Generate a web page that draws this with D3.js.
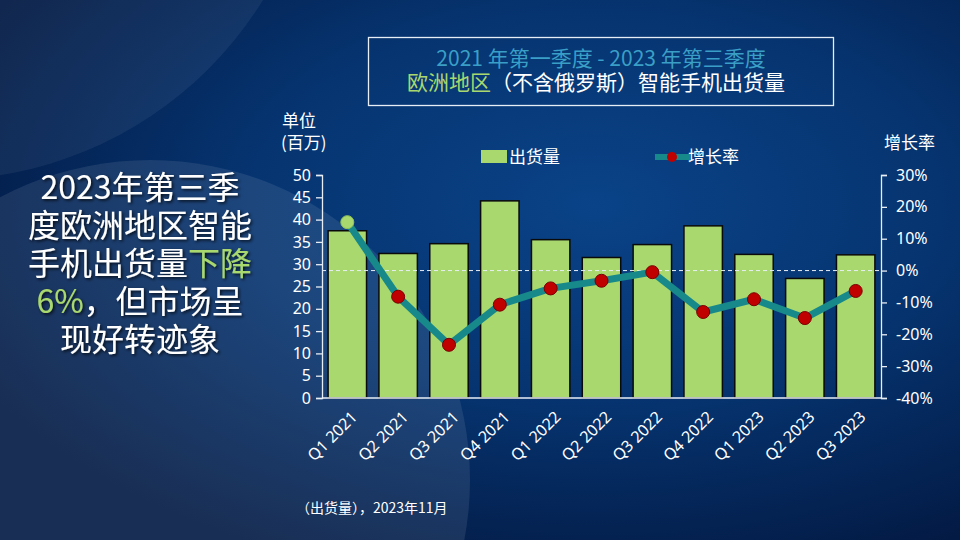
<!DOCTYPE html>
<html>
<head>
<meta charset="utf-8">
<script src="https://cdn.jsdelivr.net/npm/d3@7"></script>
<style>
  body { margin: 0; background: #062a5c; }
  svg { display: block; font-family: "Noto Sans CJK SC", "Noto Sans", sans-serif; }
</style>
</head>
<body>
<svg id="chart" width="960" height="540"></svg>
<script>
// quarters on the x axis
const quarters = ["Q1 2021","Q2 2021","Q3 2021","Q4 2021","Q1 2022","Q2 2022","Q3 2022","Q4 2022","Q1 2023","Q2 2023","Q3 2023"]
// shipments, millions
const shipments = [37.5, 32.4, 34.6, 44.2, 35.5, 31.5, 34.4, 38.6, 32.2, 26.8, 32.1]
// year over year growth, percent
const growth = [15.2, -8.2, -23.3, -10.7, -5.6, -3.2, -0.5, -13.0, -9.0, -14.9, -6.4]
const leftTicks = [0,5,10,15,20,25,30,35,40,45,50]
const rightTicks = [-40,-30,-20,-10,0,10,20,30]

const svg = d3.select("#chart")
const W = 960, H = 540
const green = "#a9d86e", teal = "#17898a", red = "#c00000"

// background
const defs = svg.append("defs")
const bg = defs.append("radialGradient").attr("id","bg").attr("cx","62%").attr("cy","38%").attr("r","72%")
bg.append("stop").attr("offset","0%").attr("stop-color","#0a4388")
bg.append("stop").attr("offset","50%").attr("stop-color","#063470")
bg.append("stop").attr("offset","100%").attr("stop-color","#031a44")
svg.append("rect").attr("width",W).attr("height",H).attr("fill","url(#bg)")
// lighter sweeps on the left
svg.append("circle").attr("cx",-60).attr("cy",-200).attr("r",380)
  .attr("fill","#ffffff").attr("opacity",0.06)
svg.append("circle").attr("cx",150).attr("cy",480).attr("r",320)
  .attr("fill","#ffffff").attr("opacity",0.09)

const shadow = defs.append("filter").attr("id","sh").attr("x","-10%").attr("y","-10%").attr("width","130%").attr("height","140%")
shadow.append("feDropShadow").attr("dx",1.5).attr("dy",1.5).attr("stdDeviation",1.5).attr("flood-color","#000").attr("flood-opacity",0.8)

// title box, both lines in one text
svg.append("rect").attr("x",368.5).attr("y",37.5).attr("width",465).attr("height",68)
  .attr("fill","none").attr("stroke","#e8eef6").attr("stroke-width",1.3)
const title = svg.append("text").attr("text-anchor","middle").attr("font-size",21)
title.append("tspan").attr("x",601).attr("y",66).attr("fill","#3a9fc6").text("2021 年第一季度 - 2023 年第三季度")
title.append("tspan").attr("x",596).attr("y",90).attr("fill",green).text("欧洲地区")
title.append("tspan").attr("fill","#ffffff").text("（不含俄罗斯）智能手机出货量")

// left headline, one text with a tspan row per line
const headLines = [
  [["2023年第三季","#fff"]],
  [["度欧洲地区智能","#fff"]],
  [["手机出货量","#fff"],["下降","#a9d86e"]],
  [["6%","#a9d86e"],["，但市场呈","#fff"]],
  [["现好转迹象","#fff"]]
]
const head = svg.append("text").attr("text-anchor","middle").attr("font-size",32).attr("filter","url(#sh)")
headLines.forEach((parts,i) => {
  parts.forEach((p,j) => {
    const s = head.append("tspan").attr("fill",p[1]).text(p[0])
    if (j == 0) s.attr("x",140).attr("y",199 + i*38)
  })
})

// scales
const x = d3.scaleBand().domain(quarters).range([322, 881]).paddingInner(0.244).paddingOuter(0.12)
const y = d3.scaleLinear().domain([0,50]).range([398,175])
const y2 = d3.scaleLinear().domain([-40,30]).range([398,175])

// bars
svg.append("g").selectAll("rect").data(shipments).join("rect")
  .attr("x",(d,i) => x(quarters[i]))
  .attr("y",d => y(d))
  .attr("width",x.bandwidth())
  .attr("height",d => y(0) - y(d))
  .attr("fill",green).attr("stroke","#0a0a0a").attr("stroke-width",1.5)

// zero growth reference
svg.append("line").attr("x1",322).attr("x2",881).attr("y1",y2(0)).attr("y2",y2(0))
  .attr("stroke","#e8eef6").attr("stroke-width",1).attr("stroke-dasharray","4,3")

// axes
const axL = svg.append("g").attr("transform","translate(322,0)")
  .call(d3.axisLeft(y).tickValues(leftTicks).tickSize(6).tickPadding(5))
const axR = svg.append("g").attr("transform","translate(881,0)")
  .call(d3.axisRight(y2).tickValues(rightTicks).tickSize(6).tickPadding(9).tickFormat(d => d + "%"))
const axB = svg.append("g").attr("transform","translate(0,398)")
  .call(d3.axisBottom(x).tickSize(0).tickPadding(0))
;[axL, axR, axB].forEach(a => {
  a.selectAll("path, line").attr("stroke","#e8eef6").attr("stroke-width",1.3)
  a.selectAll("text").attr("fill","#ffffff").attr("font-size",16).attr("font-family","'Noto Sans', sans-serif")
})
axB.select(".domain").attr("d","M322,0H881")
axB.selectAll("text").attr("font-size",16)
  .attr("text-anchor","end")
  .attr("transform","translate(7,16) rotate(-45)")
  .attr("dy","0.35em")

// growth line
const line = d3.line().x((d,i) => x(quarters[i]) + x.bandwidth()/2).y(d => y2(d))
svg.append("path").datum(growth).attr("d",line).attr("fill","none")
  .attr("stroke",teal).attr("stroke-width",7).attr("stroke-linejoin","round")
svg.append("g").selectAll("circle").data(growth).join("circle")
  .attr("cx",(d,i) => x(quarters[i]) + x.bandwidth()/2)
  .attr("cy",d => y2(d))
  .attr("r",6.5)
  .attr("fill",(d,i) => i == 0 ? green : red)
  .attr("stroke",(d,i) => i == 0 ? "#8fc25a" : "#7a0000").attr("stroke-width",1)

// axis titles
const unit = svg.append("text").attr("font-size",17).attr("fill","#fff")
unit.append("tspan").attr("x",282).attr("y",127).text("单位")
unit.append("tspan").attr("x",281).attr("y",149).text("(百万)")
svg.append("text").attr("x",884).attr("y",149).attr("font-size",17).attr("fill","#fff").text("增长率")

// legend
svg.append("rect").attr("x",481).attr("y",150).attr("width",26).attr("height",13).attr("fill",green)
svg.append("text").attr("x",509).attr("y",163).attr("font-size",17).attr("fill","#fff").text("出货量")
svg.append("line").attr("x1",655).attr("x2",690).attr("y1",157).attr("y2",157).attr("stroke",teal).attr("stroke-width",6)
svg.append("circle").attr("cx",672).attr("cy",157).attr("r",5).attr("fill",red)
svg.append("text").attr("x",688).attr("y",163).attr("font-size",17).attr("fill","#fff").text("增长率")

// source note
svg.append("text").attr("x",296).attr("y",513).attr("font-size",14).attr("fill","#fff").text("（出货量），2023年11月")
</script>
</body>
</html>
